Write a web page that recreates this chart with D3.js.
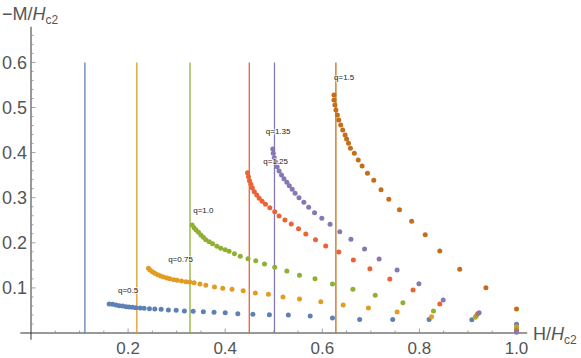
<!DOCTYPE html>
<html>
<head>
<meta charset="utf-8">
<script src="https://cdnjs.cloudflare.com/ajax/libs/d3/7.8.5/d3.min.js"></script>
<style>
    * { margin: 0; padding: 0; }
    body { background: #fff; font-family: "Liberation Sans", Arial, sans-serif; }
</style>
</head>
<body>
<script>
    // q values, colours and the vertical lines (H values) for each series
    var qLabels = ["q=0.5", "q=0.75", "q=1.0", "q=1.25", "q=1.35", "q=1.5"];
    var colors = ["#5E81B5", "#E19C24", "#8FB032", "#EB6235", "#8778B3", "#C56E1A"];
    var lineH = [0.111, 0.218, 0.3275, 0.4496, 0.5015, 0.628];
    // label anchor points [H, M]
    var labelPos = [[0.200, 0.0887], [0.308, 0.157], [0.355, 0.266], [0.504, 0.375], [0.509, 0.441], [0.645, 0.561]];

    var xTicks = [0.2, 0.4, 0.6, 0.8, 1.0];
    var yTicks = [0.1, 0.2, 0.3, 0.4, 0.5, 0.6];

    // [H/Hc2, -M/Hc2]
    var q05 = [[0.161,0.0643],[0.168,0.0636],[0.175,0.0621],[0.182,0.0605],[0.189,0.0599],[0.196,0.0583],
        [0.202,0.0576],[0.209,0.0570],[0.216,0.0561],[0.225,0.0554],[0.233,0.0548],[0.244,0.0539],
        [0.255,0.0532],[0.268,0.0525],[0.283,0.0510],[0.299,0.0503],[0.316,0.0488],[0.334,0.0481],
        [0.355,0.0472],[0.377,0.0459],[0.400,0.0450],[0.426,0.0428],[0.457,0.0415],[0.491,0.0406],
        [0.530,0.0399],[0.575,0.0375],[0.621,0.0335],[0.677,0.0300],[0.745,0.0302],[0.820,0.0297],
        [0.908,0.0295],[1.0,0.0193]];
    var q075 = [[0.242,0.1435],[0.245,0.1397],[0.250,0.1359],[0.255,0.1324],[0.261,0.1293],[0.267,0.1264],
        [0.273,0.1242],[0.280,0.1220],[0.286,0.1204],[0.294,0.1182],[0.301,0.1168],[0.310,0.1153],
        [0.319,0.1137],[0.327,0.1131],[0.336,0.1115],[0.348,0.1086],[0.360,0.1058],[0.378,0.1020],
        [0.395,0.0991],[0.414,0.0969],[0.437,0.0938],[0.462,0.0887],[0.489,0.0858],[0.519,0.0798],
        [0.553,0.0754],[0.597,0.0694],[0.643,0.0621],[0.695,0.0554],[0.754,0.0466],[0.825,0.0361],
        [0.915,0.0348],[1.0,0.0140]];
    var q10 = [[0.332,0.2395],[0.336,0.2335],[0.340,0.2284],[0.345,0.2233],[0.350,0.2173],[0.355,0.2122],
        [0.360,0.2069],[0.367,0.2024],[0.374,0.1980],[0.383,0.1922],[0.391,0.1878],[0.400,0.1847],
        [0.408,0.1812],[0.419,0.1758],[0.431,0.1701],[0.447,0.1647],[0.463,0.1603],[0.481,0.1530],
        [0.502,0.1457],[0.527,0.1375],[0.553,0.1279],[0.585,0.1204],[0.621,0.1086],[0.663,0.0969],
        [0.709,0.0836],[0.766,0.0672],[0.829,0.0488],[0.917,0.0377],[1.0,0.0095]];
    var q125 = [[0.446,0.3554],[0.448,0.3466],[0.450,0.3377],[0.453,0.3297],[0.456,0.3215],[0.460,0.3133],
        [0.465,0.3060],[0.470,0.2987],[0.476,0.2920],[0.483,0.2854],[0.492,0.2778],[0.502,0.2690],
        [0.511,0.2594],[0.523,0.2505],[0.536,0.2417],[0.551,0.2313],[0.566,0.2195],[0.586,0.2069],
        [0.607,0.1929],[0.634,0.1796],[0.664,0.1619],[0.698,0.1426],[0.739,0.1197],[0.787,0.0953],
        [0.842,0.0643],[0.920,0.0428],[1.0,0.0050]];
    var q135 = [[0.498,0.4080],[0.499,0.3984],[0.501,0.3887],[0.504,0.3785],[0.507,0.3687],[0.511,0.3592],
        [0.516,0.3503],[0.521,0.3421],[0.527,0.3341],[0.532,0.3266],[0.538,0.3186],[0.544,0.3097],
        [0.552,0.3000],[0.562,0.2898],[0.572,0.2787],[0.584,0.2667],[0.599,0.2543],[0.616,0.2410],
        [0.636,0.2246],[0.659,0.2078],[0.687,0.1862],[0.717,0.1641],[0.754,0.1397],[0.799,0.1093],
        [0.849,0.0732],[0.923,0.0450],[1.0,0.0016]];
    var q15 = [[0.624,0.5277],[0.624,0.5166],[0.626,0.5055],[0.628,0.4945],[0.631,0.4834],[0.634,0.4723],
        [0.638,0.4612],[0.642,0.4501],[0.647,0.4390],[0.650,0.4302],[0.654,0.4206],[0.658,0.4095],
        [0.666,0.3984],[0.674,0.3836],[0.682,0.3703],[0.693,0.3541],[0.706,0.3386],[0.721,0.3177],
        [0.737,0.2964],[0.759,0.2734],[0.784,0.2477],[0.812,0.2180],[0.842,0.1818],[0.883,0.1412],
        [0.937,0.1004],[1.0,0.0532]];

    var series = [q05, q075, q10, q125, q135, q15];

    var width = 581, height = 358;

    var svg = d3.select("body").append("svg")
        .attr("width", width)
        .attr("height", height);

    var x = d3.scaleLinear().domain([0, 1]).range([31, 516.5]);
    var y = d3.scaleLinear().domain([0, 0.6]).range([333, 62.4]);

    var axisColor = "#333";

    // x axis line and ticks (ticks point up into the plot)
    svg.append("line")
        .attr("x1", x(-0.022)).attr("x2", x(1.022))
        .attr("y1", y(0)).attr("y2", y(0))
        .attr("stroke", axisColor).attr("stroke-width", 1);

    var xMinor = d3.range(1, 21).map(function(i) { return i * 0.05; });
    svg.selectAll(".xtick")
        .data(xMinor)
        .enter().append("line")
        .attr("class", "xtick")
        .attr("x1", function(d) { return x(d); })
        .attr("x2", function(d) { return x(d); })
        .attr("y1", y(0))
        .attr("y2", function(d, i) { return y(0) - ((i + 1) % 4 == 0 ? 4.5 : 2.5); })
        .attr("stroke", "#888").attr("stroke-width", 0.8);

    svg.selectAll(".xlabel")
        .data(xTicks)
        .enter().append("text")
        .attr("class", "xlabel")
        .attr("x", function(d) { return x(d); })
        .attr("y", 354)
        .attr("text-anchor", "middle")
        .style("font-size", "17px")
        .style("fill", "#555")
        .text(function(d) { return d3.format(".1f")(d); });

    // y axis
    svg.append("line")
        .attr("x1", x(0)).attr("x2", x(0))
        .attr("y1", y(0.679)).attr("y2", y(-0.015))
        .attr("stroke", axisColor).attr("stroke-width", 1);

    var yMinor = d3.range(1, 34).map(function(i) { return i * 0.02; });
    svg.selectAll(".ytick")
        .data(yMinor)
        .enter().append("line")
        .attr("class", "ytick")
        .attr("x1", x(0))
        .attr("x2", function(d, i) { return x(0) + ((i + 1) % 5 == 0 ? 4.5 : 2.5); })
        .attr("y1", function(d) { return y(d); })
        .attr("y2", function(d) { return y(d); })
        .attr("stroke", "#888").attr("stroke-width", 0.8);

    svg.selectAll(".ylabel")
        .data(yTicks)
        .enter().append("text")
        .attr("class", "ylabel")
        .attr("x", 27)
        .attr("y", function(d) { return y(d) + 6.5; })
        .attr("text-anchor", "end")
        .style("font-size", "18px")
        .style("fill", "#555")
        .text(function(d) { return d3.format(".1f")(d); });

    // axis titles
    var yt = svg.append("text")
        .attr("x", 2).attr("y", 20)
        .style("font-size", "18px").style("fill", "#555");
    yt.append("tspan").text("\u2212M/");
    yt.append("tspan").style("font-style", "italic").text("H");
    yt.append("tspan").attr("dy", 4).style("font-size", "12px").text("c2");

    var xt = svg.append("text")
        .attr("x", 533).attr("y", 340)
        .style("font-size", "18px").style("fill", "#555");
    xt.append("tspan").text("H/");
    xt.append("tspan").style("font-style", "italic").text("H");
    xt.append("tspan").attr("dy", 4).style("font-size", "12px").text("c2");

    // vertical lines
    svg.selectAll(".vline")
        .data(lineH)
        .enter().append("line")
        .attr("class", "vline")
        .attr("x1", function(d) { return x(d); })
        .attr("x2", function(d) { return x(d); })
        .attr("y1", y(0.6))
        .attr("y2", y(0))
        .attr("stroke", function(d, i) { return colors[i]; })
        .attr("stroke-width", 1.3);

    // dots
    series.forEach(function(s, i) {
        svg.append("g")
            .selectAll("circle")
            .data(s)
            .enter().append("circle")
            .attr("cx", function(d) { return x(d[0]); })
            .attr("cy", function(d) { return y(d[1]); })
            .attr("r", 2.5)
            .attr("fill", colors[i]);
    });

    // q labels
    var labels = svg.selectAll(".qlabel")
        .data(qLabels)
        .enter().append("text")
        .attr("class", "qlabel")
        .attr("x", function(d, i) { return x(labelPos[i][0]); })
        .attr("y", function(d, i) { return y(labelPos[i][1]); })
        .attr("text-anchor", "middle")
        .style("font-size", "8px")
        .style("fill", "#222")
        .style("paint-order", "stroke")
        .style("stroke", "rgba(255,255,255,0.6)")
        .style("stroke-width", "2px")
        .text(function(d) { return d; });
</script>
</body>
</html>
